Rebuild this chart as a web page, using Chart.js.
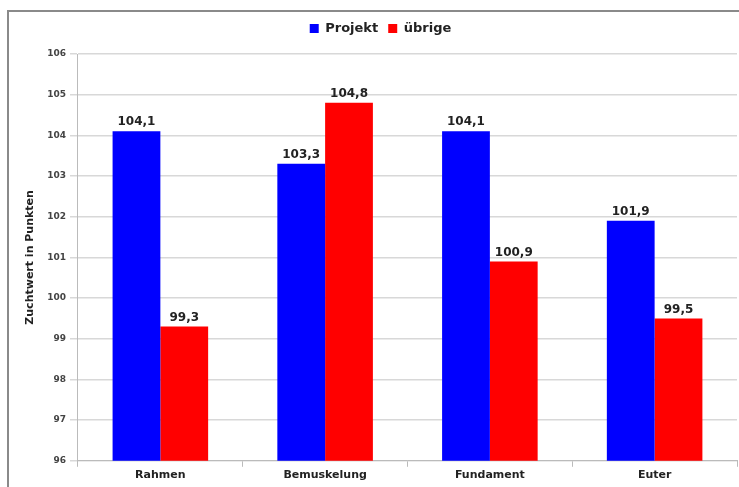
<!DOCTYPE html>
<html>
<head>
<meta charset="utf-8">
<script src="https://cdn.jsdelivr.net/npm/chart.js@4/dist/chart.umd.min.js"></script>
<style>
  html, body { margin: 0; padding: 0; background: #fff; overflow: hidden; }
  canvas { display: block; }
</style>
</head>
<body>
<canvas id="chart" width="739" height="487"></canvas>
<script>
// Data
const categories = ['Rahmen', 'Bemuskelung', 'Fundament', 'Euter'];
const projekt = [104.1, 103.3, 104.1, 101.9];
const uebrige = [99.3, 104.8, 100.9, 99.5];
const yMin = 96;
const yMax = 106;

// grey frame line along top and left, like the original
const frame = {
    id: 'frame',
    beforeDraw(chart) {
        const ctx = chart.ctx;
        ctx.save();
        ctx.strokeStyle = '#8a8a8a';
        ctx.lineWidth = 2;
        ctx.beginPath();
        ctx.moveTo(8, chart.height);
        ctx.lineTo(8, 11);
        ctx.lineTo(chart.width, 11);
        ctx.stroke();
        ctx.restore();
    }
};

// value labels on top of the bars, German decimal comma
const valueLabels = {
    id: 'valueLabels',
    afterDatasetsDraw(chart) {
        const ctx = chart.ctx;
        ctx.save();
        ctx.font = 'bold 12px "DejaVu Sans"';
        ctx.fillStyle = '#222';
        ctx.textAlign = 'center';
        ctx.textBaseline = 'bottom';
        chart.data.datasets.forEach((ds, i) => {
            chart.getDatasetMeta(i).data.forEach((bar, j) => {
                ctx.fillText(ds.data[j].toFixed(1).replace('.', ','), bar.x, bar.y - 3);
            });
        });
        ctx.restore();
    }
};

// a bit more room under the legend
const legendMargin = {
    id: 'legendMargin',
    beforeInit(chart) {
        const fit = chart.legend.fit;
        chart.legend.fit = function () {
            fit.bind(chart.legend)();
            this.height += 9;
        };
    }
};

const chartCtx = document.getElementById('chart').getContext('2d');
const chart = new Chart(chartCtx, {
    type: 'bar',
    data: {
        labels: categories,
        datasets: [{
            label: 'Projekt',
            data: projekt,
            backgroundColor: '#0000ff',
            borderWidth: 0
        }, {
            label: 'übrige',
            data: uebrige,
            backgroundColor: '#ff0000',
            borderWidth: 0
        }]
    },
    options: {
        responsive: false,
        animation: false,
        layout: { padding: { top: 12, left: 24, right: 2, bottom: 3 } },
        datasets: {
            bar: { categoryPercentage: 0.58, barPercentage: 1.0 }
        },
        scales: {
            x: {
                grid: { display: true, drawOnChartArea: false, drawTicks: true, tickLength: 6, color: '#bbb', offset: true },
                border: { color: '#bbb' },
                ticks: { color: '#222', font: { family: 'DejaVu Sans', weight: 'bold', size: 11 }, padding: 2 }
            },
            y: {
                min: yMin,
                max: yMax,
                ticks: { stepSize: 1, color: '#444', font: { family: 'DejaVu Sans', weight: 'bold', size: 9 }, padding: 4 },
                grid: { color: '#d8d8d8', tickLength: 8, lineWidth: 1.5 },
                border: { color: '#bbb' },
                title: {
                    display: true,
                    text: 'Zuchtwert in Punkten',
                    color: '#222',
                    font: { family: 'DejaVu Sans', weight: 'bold', size: 11 },
                    padding: { top: 0, bottom: 6 }
                }
            }
        },
        plugins: {
            legend: {
                position: 'top',
                labels: {
                    boxWidth: 9,
                    boxHeight: 9,
                    padding: 10,
                    color: '#222',
                    font: { family: 'DejaVu Sans', weight: 'bold', size: 13 }
                }
            },
            tooltip: { enabled: false }
        }
    },
    plugins: [frame, valueLabels, legendMargin]
});
</script>
</body>
</html>
